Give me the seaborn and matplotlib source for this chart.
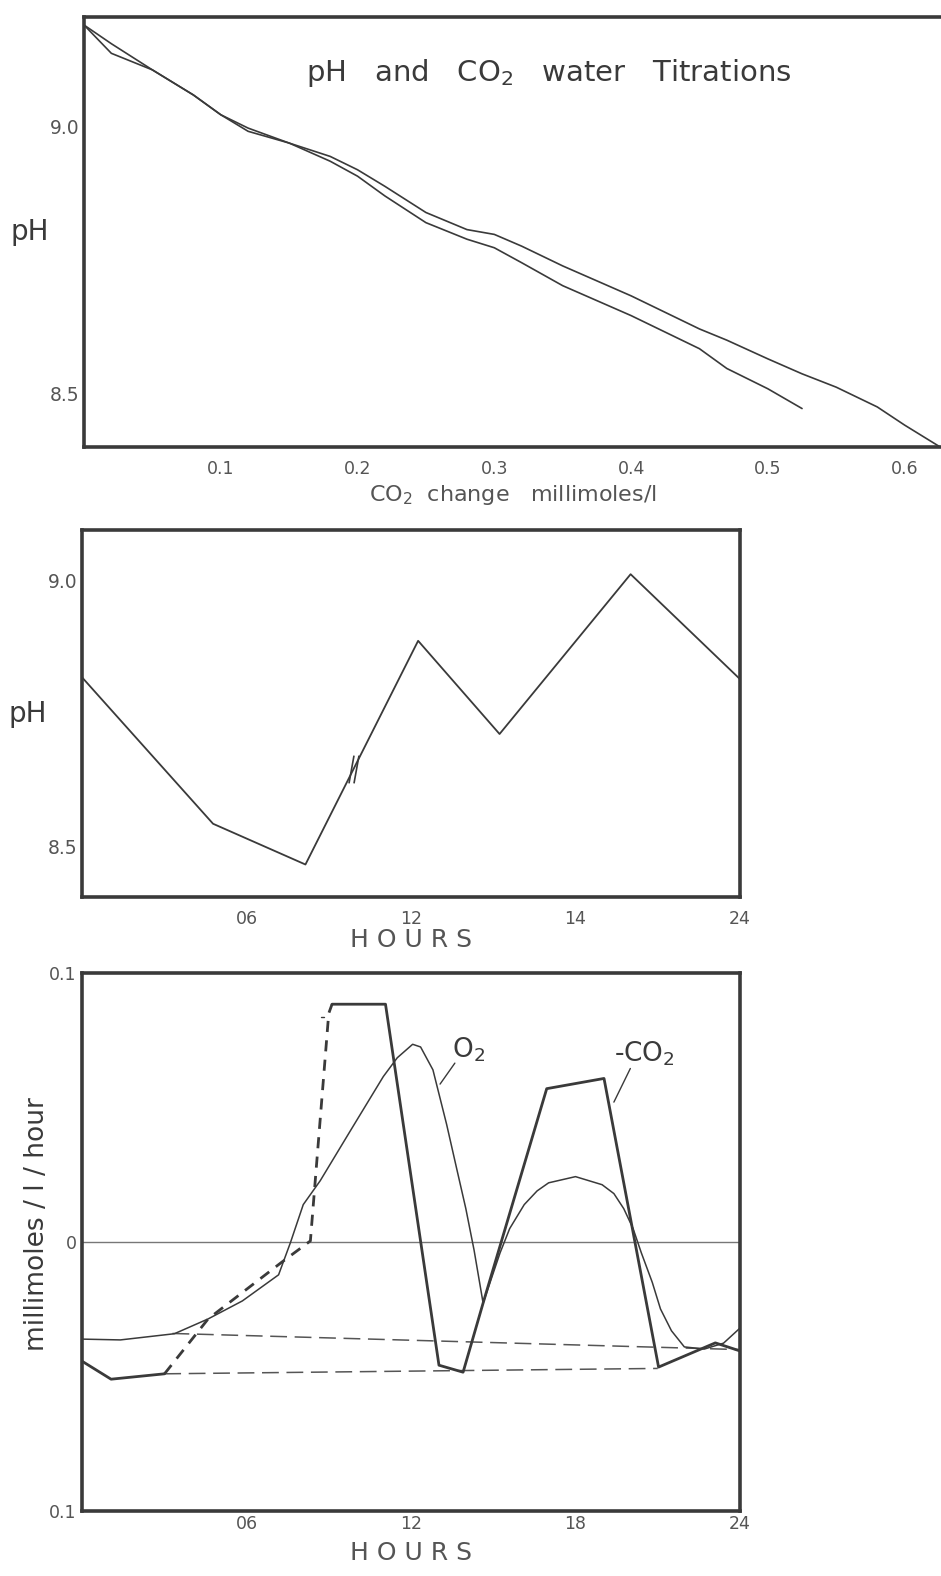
import numpy as np
import pandas as pd
import seaborn as sns
import matplotlib.pyplot as plt

sns.set_theme(style="white")
plt.rcParams['font.family'] = ['DejaVu Sans']

# --- panel 1: titration curves (CO2 change vs pH)
co2_a = [0, 0.02, 0.05, 0.08, 0.1, 0.12, 0.15, 0.18, 0.2, 0.22, 0.25, 0.28, 0.3, 0.32,
         0.35, 0.4, 0.45, 0.47, 0.5, 0.525, 0.55, 0.58, 0.6, 0.626]
ph_a = [9.19, 9.155, 9.106, 9.059, 9.022, 8.997, 8.969, 8.944, 8.919, 8.888, 8.839, 8.807,
        8.798, 8.776, 8.739, 8.683, 8.621, 8.600, 8.565, 8.537, 8.512, 8.475, 8.441, 8.40]
co2_b = [0, 0.02, 0.05, 0.08, 0.1, 0.12, 0.15, 0.18, 0.2, 0.22, 0.25, 0.28, 0.3, 0.32,
         0.35, 0.4, 0.45, 0.47, 0.5, 0.525]
ph_b = [9.19, 9.137, 9.106, 9.059, 9.022, 8.991, 8.969, 8.935, 8.907, 8.870, 8.820, 8.789,
        8.773, 8.745, 8.702, 8.646, 8.584, 8.547, 8.509, 8.472]

# --- panel 2: pH over the day
hours_ph = [0, 4.78, 8.15, 12.26, 15.23, 20.01, 24]
ph_day = [8.8175, 8.5425, 8.466, 8.886, 8.711, 9.011, 8.814]
break_hour = 9.9

# --- panel 3: rates
co2_h_solid1 = [0, 1.06, 3.01]
co2_v_solid1 = [-0.0443, -0.051, -0.049]
co2_h_dash = [3.01, 4.6, 7.26, 8.33, 9.0, 9.12]
co2_v_dash = [-0.049, -0.0286, -0.0077, 0.0004, 0.085, 0.0884]
co2_h_tick = [8.72, 8.82]
co2_v_tick = [0.0836, 0.0836]
co2_h_solid2 = [9.12, 11.07, 13.02, 13.9, 14.63, 16.95, 19.04, 21.03, 23.1, 24]
co2_v_solid2 = [0.0884, 0.0884, -0.0458, -0.0484, -0.0227, 0.057, 0.0608, -0.0465, -0.0375, -0.0405]

o2_h = [0, 1.4, 3.37, 4.6, 5.85, 7.17, 7.6, 8.07, 8.69, 9.75, 10.99, 11.5, 12.06, 12.35,
        12.8, 13.3, 13.65, 14.0, 14.3, 14.63, 15.25, 15.6, 16.13, 16.6, 17.02, 18.0, 18.97,
        19.4, 19.76, 20.1, 20.4, 20.8, 21.1, 21.5, 21.97, 22.7, 23.4, 24]
o2_v = [-0.0361, -0.0364, -0.0341, -0.0286, -0.0219, -0.0122, -0.0003, 0.0139, 0.0228, 0.0407,
        0.0615, 0.0685, 0.0735, 0.0725, 0.064, 0.0437, 0.028, 0.0124, -0.003, -0.0227, -0.004,
        0.005, 0.0139, 0.019, 0.022, 0.0243, 0.0213, 0.018, 0.0124, 0.005, -0.004, -0.015,
        -0.0249, -0.033, -0.039, -0.0398, -0.0376, -0.032]

base_o2_h = [3.3, 24]
base_o2_v = [-0.034, -0.040]
base_co2_h = [3.0, 21.0]
base_co2_v = [-0.049, -0.047]

ink = '#3a3a3a'
lab = '#555555'

fig = plt.figure(figsize=(9.41, 15.76), dpi=100)
W, H = 941, 1576


def rect(l, r, t, b):
    return [l / W, 1 - b / H, (r - l) / W, (b - t) / H]


def frame(ax, lw=2.6):
    for s in ax.spines.values():
        s.set_color(ink)
        s.set_linewidth(lw)
    ax.tick_params(direction='in', color=ink, labelcolor=lab, labelsize=12.5,
                   length=12, width=1.2)
    ax.tick_params(axis='x', pad=9)
    ax.tick_params(axis='y', labelsize=13.5)


# panel 1
ax1 = fig.add_axes(rect(84, 941, 17, 447))
sns.lineplot(x=co2_a, y=ph_a, sort=False, ax=ax1, color=ink, lw=1.2)
sns.lineplot(x=co2_b, y=ph_b, sort=False, ax=ax1, color=ink, lw=1.2)
ax1.set_xlim(0, 0.6266)
ax1.set_ylim(8.40, 9.205)
frame(ax1)
ax1.spines['right'].set_visible(False)
ax1.set_xticks([0.1, 0.2, 0.3, 0.4, 0.5, 0.6])
ax1.set_xticklabels(['0.1', '0.2', '0.3', '0.4', '0.5', '0.6'])
ax1.set_yticks([8.5, 8.6, 8.7, 8.8, 8.9, 9.0])
ax1.set_yticklabels(['8.5', '', '', '', '', '9.0'])
ax1.set_xlabel('CO$_2$  change   millimoles/l', fontsize=16, color=lab, labelpad=4)
ax1.set_ylabel('pH', fontsize=20, color=ink, rotation=0, labelpad=14, va='center')
ax1.text(0.5426, 0.87, 'pH   and   CO$_2$   water   Titrations', transform=ax1.transAxes,
         ha='center', va='center', fontsize=21, color=ink)

# panel 2
ax2 = fig.add_axes(rect(82, 740, 530, 897))
sns.lineplot(x=hours_ph, y=ph_day, sort=False, ax=ax2, color=ink, lw=1.3)
yb = np.interp(break_hour, hours_ph, ph_day)
slash = [(-0.18, -1), (0.18, 1)]
ax2.plot([break_hour - 0.1, break_hour + 0.1], [yb, yb], ls='none', marker=slash,
         ms=20, mew=1.2, color=ink)
ax2.set_xlim(0, 24)
ax2.set_ylim(8.405, 9.094)
frame(ax2)
ax2.set_xticks([6, 12, 18, 24])
ax2.set_xticklabels(['06', '12', '14', '24'])
ax2.set_yticks([8.5, 8.6, 8.7, 8.8, 8.9, 9.0])
ax2.set_yticklabels(['8.5', '', '', '', '', '9.0'])
ax2.set_xlabel('H O U R S', fontsize=18, color=lab, labelpad=0)
ax2.set_ylabel('pH', fontsize=20, color=ink, rotation=0, labelpad=14, va='center')

# panel 3
ax3 = fig.add_axes(rect(82, 740, 973, 1511))
ax3.axhline(0, color='#777777', lw=1.0)
sns.lineplot(x=base_o2_h, y=base_o2_v, ax=ax3, color='#555555', lw=1.1,
             linestyle=(0, (11, 5)))
sns.lineplot(x=base_co2_h, y=base_co2_v, ax=ax3, color='#555555', lw=1.1,
             linestyle=(0, (11, 5)))
sns.lineplot(x=o2_h, y=o2_v, sort=False, ax=ax3, color=ink, lw=1.1)
sns.lineplot(x=co2_h_solid1, y=co2_v_solid1, sort=False, ax=ax3, color=ink, lw=2.0)
sns.lineplot(x=co2_h_dash, y=co2_v_dash, sort=False, ax=ax3, color=ink, lw=2.0,
             linestyle=(0, (4, 3)))
sns.lineplot(x=co2_h_tick, y=co2_v_tick, sort=False, ax=ax3, color=ink, lw=1.0)
sns.lineplot(x=co2_h_solid2, y=co2_v_solid2, sort=False, ax=ax3, color=ink, lw=2.0)
ax3.text(13.5, 0.0714, 'O$_2$', fontsize=19, color=ink, ha='left', va='center')
ax3.plot([13.6, 13.06], [0.0665, 0.0587], color=ink, lw=1.0)
ax3.text(19.4, 0.0700, '-CO$_2$', fontsize=19, color=ink, ha='left', va='center')
ax3.plot([20.0, 19.4], [0.0645, 0.052], color=ink, lw=1.0)
ax3.set_xlim(0, 24)
ax3.set_ylim(-0.1, 0.1)
frame(ax3)
ax3.tick_params(axis='y', length=0, pad=4, labelsize=12.5)
ax3.tick_params(axis='x', pad=3)
ax3.set_xticks([6, 12, 18, 24])
ax3.set_xticklabels(['06', '12', '18', '24'])
ax3.set_yticks([-0.1, 0, 0.1])
ax3.set_yticklabels(['0.1', '0', '0.1'])
ax3.set_xlabel('H O U R S', fontsize=18, color=lab, labelpad=6)
fig.text(37 / W, 1 - 1224 / H, 'millimoles / l / hour', rotation=90, ha='center',
         va='center', fontsize=19, color=ink)

fig.savefig('out.png', dpi=100, facecolor='white')
